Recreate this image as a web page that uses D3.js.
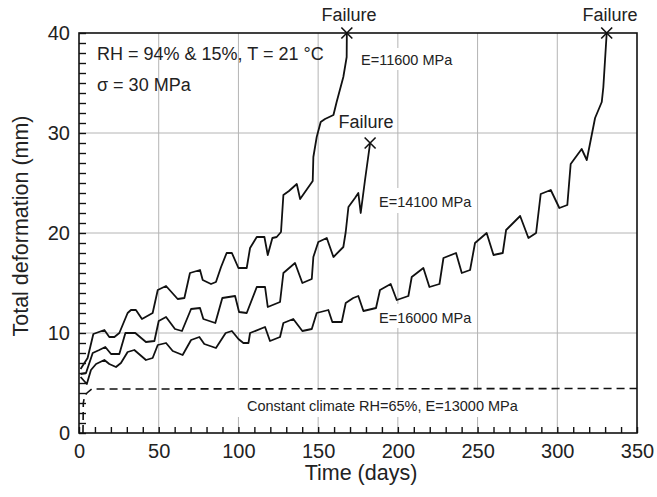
<!DOCTYPE html>
<html>
<head>
<meta charset="utf-8">
<script src="https://cdn.jsdelivr.net/npm/d3@7"></script>
<style>
	body { margin: 0; background: #fff; }
	svg { font-family: "Liberation Sans", Arial, sans-serif; }
</style>
</head>
<body>
<div class="chart"></div>
<script>
// [day, total deformation (mm)]
var e11600 = [[1,6.4],[5.4,7.5],[9,9.9],[15.9,10.3],[19,9.6],[22.2,9.6],[25.3,10.0],[30.5,12.0],[32.6,12.3],[35.7,12.3],
	[39.5,11.4],[46.2,12.0],[49.4,14.3],[54.6,14.7],[61.9,13.4],[66.1,13.5],[69.6,16.0],[75.9,16.3],[77.6,15.3],[82.8,14.9],
	[85.9,15.1],[89.1,16.6],[92.6,18.0],[95.9,18.0],[100,16.5],[105.2,16.5],[107.3,18.5],[111.5,19.6],[116.3,19.6],[118.4,17.8],
	[121.3,19.5],[124,19.6],[126.7,20.1],[128.2,23.8],[131.7,24.2],[136.6,24.9],[138.7,23.4],[142.2,24.2],[146.6,25.2],[147,27.6],
	[149.1,29.6],[151.6,31.1],[154.3,31.4],[159.6,31.8],[161.6,33.1],[165.8,35.6],[167.9,37.6],[168,40]];

var e14100 = [[1,5.9],[4.4,6.0],[8.6,8.0],[12.7,8.3],[16.5,8.6],[20.1,7.9],[25.3,7.9],[29.1,10.0],[35.3,10.0],[42,9.1],
	[47.3,9.2],[50,11.2],[54.6,11.6],[60.2,10.4],[64.6,10.2],[70.3,12.4],[75.9,12.5],[78,11.4],[85.5,11.0],[89.9,13.5],
	[97.9,13.7],[100.4,12.1],[105.2,12.0],[111.5,14.6],[116.7,14.6],[118.4,12.6],[126.1,13.1],[128.2,16.0],[135.5,17.0],[140.1,15.0],
	[146,15.4],[147,17.6],[150.1,19.1],[155.4,19.5],[159.6,17.6],[165.8,18.6],[167.3,20.1],[169,22.6],[173.1,23.5],[175.2,24.0],
	[176.7,22.0],[179.4,25.3],[182.6,29]];

var e16000 = [[1,5.6],[4.9,4.9],[7.5,6.3],[10.7,6.9],[15.9,7.3],[19,6.9],[23.2,6.6],[26.3,7.0],[30.5,8.1],[34.7,8.3],
	[42,7.3],[46.2,7.5],[49.4,8.8],[54.6,9.0],[58.8,8.2],[65,7.8],[70.3,9.3],[75.5,9.6],[78.6,8.9],[85.9,8.5],
	[92,10.0],[95.9,10.2],[100,9.4],[103.1,9.0],[106.3,9.0],[107.3,10.0],[116.7,10.6],[119.8,9.2],[126.1,9.6],[128.2,11.0],
	[134.4,11.4],[140.1,10.2],[146,10.4],[149.1,12.0],[156.4,12.3],[158.9,11.1],[164.8,11.1],[167.3,13.0],[172,13.5],[175.2,13.7],
	[178.4,12.2],[186.3,12.5],[188.8,14.3],[195.5,14.9],[199.3,13.3],[206.6,13.7],[208.7,15.6],[216,16.5],[219.8,14.6],[226.1,14.9],
	[228.6,17.5],[236.5,18.0],[240.1,16.0],[245.3,16.3],[248.4,19.0],[255.7,20.0],[260,17.8],[265.8,18.0],[267.9,20.3],[276.7,21.7],
	[281.9,19.5],[286.7,20.0],[289.6,23.9],[295.9,24.3],[301.3,22.5],[306.3,22.8],[308.4,26.9],[315.3,28.4],[318.5,27.3],[323.7,31.5],
	[327.9,33.1],[328.9,34.6],[331,40]];

// constant climate reference (dashed)
var constantClimate = [[2.5,0],[2.7,3.0],[3.5,3.7],[5,4.0],[8,4.4],[350,4.45]];

var failures = [[168,40],[182.6,29],[331,40]];

var xTicks = [0, 50, 100, 150, 200, 250, 300, 350];
var yTicks = [0, 10, 20, 30, 40];

var width = 657;
var height = 497;
var margin = {top: 33, right: 20, bottom: 64, left: 79};

var svg = d3.select(".chart")
	.append("svg")
	.attr("width", width)
	.attr("height", height);

var x = d3.scaleLinear().domain([0, 350]).range([margin.left, width - margin.right]);
var y = d3.scaleLinear().domain([0, 40]).range([height - margin.bottom, margin.top]);

var x0 = x(0), x1 = x(350), y0 = y(0), y1 = y(40);

// grid
svg.append("g")
	.selectAll("line")
	.data(xTicks.slice(1, -1))
	.enter()
	.append("line")
	.attr("x1", function(d) { return x(d); })
	.attr("x2", function(d) { return x(d); })
	.attr("y1", y0)
	.attr("y2", y1)
	.attr("stroke", "#b4b4b4")
	.attr("stroke-width", 1);

svg.append("g")
	.selectAll("line")
	.data(yTicks.slice(1, -1))
	.enter()
	.append("line")
	.attr("y1", function(d) { return y(d); })
	.attr("y2", function(d) { return y(d); })
	.attr("x1", x0)
	.attr("x2", x1)
	.attr("stroke", "#b4b4b4")
	.attr("stroke-width", 1);

// labels on white boxes
var labels = [
	{text: "E=11600 MPa", x: 361, y: 65, padX: 4, padTop: 4, padBot: 2},
	{text: "E=14100 MPa", x: 379, y: 207, padX: 4, padTop: 6, padBot: 3},
	{text: "E=16000 MPa", x: 379, y: 323, padX: 4, padTop: 6, padBot: 2},
	{text: "Constant climate RH=65%, E=13000 MPa", x: 247, y: 411, padX: 10, padTop: 8, padBot: 3}
];

var labelG = svg.append("g");
labels.forEach(function(l) {
	var bg = labelG.append("rect").attr("fill", "#fff");
	var t = labelG.append("text")
		.attr("x", l.x)
		.attr("y", l.y)
		.attr("font-size", "14.5px")
		.attr("fill", "#222")
		.text(l.text);
	var b = t.node().getBBox();
	bg.attr("x", b.x - l.padX)
		.attr("y", b.y - l.padTop)
		.attr("width", b.width + l.padX * 2)
		.attr("height", b.height + l.padTop + l.padBot);
});

// curves
var line = d3.line()
	.x(function(d) { return x(d[0]); })
	.y(function(d) { return y(d[1]); });

[e11600, e14100, e16000].forEach(function(s) {
	svg.append("path")
		.datum(s)
		.attr("d", line)
		.attr("fill", "none")
		.attr("stroke", "#111")
		.attr("stroke-width", 1.8)
		.attr("stroke-linejoin", "round");
});

svg.append("path")
	.datum(constantClimate)
	.attr("d", line)
	.attr("fill", "none")
	.attr("stroke", "#111")
	.attr("stroke-width", 1.6)
	.attr("stroke-dasharray", "8,5");

// failure marks
svg.selectAll(".fail")
	.data(failures)
	.enter()
	.append("path")
	.attr("class", "fail")
	.attr("transform", function(d) { return "translate(" + x(d[0]) + "," + y(d[1]) + ")"; })
	.attr("d", d3.symbol().type(d3.symbolX).size(80))
	.attr("fill", "none")
	.attr("stroke", "#111")
	.attr("stroke-width", 1.6);

var failText = [
	{text: "Failure", x: 349, y: 21},
	{text: "Failure", x: 366, y: 128},
	{text: "Failure", x: 610, y: 21}
];
svg.selectAll(".failText")
	.data(failText)
	.enter()
	.append("text")
	.attr("class", "failText")
	.attr("x", function(d) { return d.x; })
	.attr("y", function(d) { return d.y; })
	.attr("text-anchor", "middle")
	.attr("font-size", "18px")
	.attr("fill", "#222")
	.text(function(d) { return d.text; });

// frame
svg.append("rect")
	.attr("x", x0)
	.attr("y", y1)
	.attr("width", x1 - x0)
	.attr("height", y0 - y1)
	.attr("fill", "none")
	.attr("stroke", "#111")
	.attr("stroke-width", 1.6);

// minor ticks (inward)
svg.append("g")
	.attr("transform", "translate(0," + y0 + ")")
	.call(d3.axisBottom(x).tickValues(d3.range(0, 351, 10)).tickSize(-6).tickFormat(""))
	.call(function(g) { g.select(".domain").remove(); })
	.selectAll("line").attr("stroke", "#111").attr("stroke-width", 1.4);

svg.append("g")
	.attr("transform", "translate(" + x0 + ",0)")
	.call(d3.axisLeft(y).tickValues(d3.range(0, 41, 1)).tickSize(-7).tickFormat(""))
	.call(function(g) { g.select(".domain").remove(); })
	.selectAll("line").attr("stroke", "#111").attr("stroke-width", 1.4);

// tick labels
var xAxis = svg.append("g")
	.attr("transform", "translate(0," + y0 + ")")
	.call(d3.axisBottom(x).tickValues(xTicks).tickSize(0).tickPadding(11));
xAxis.select(".domain").remove();
xAxis.selectAll("text").attr("font-size", "20px").attr("fill", "#222").attr("font-family", null);

var yAxis = svg.append("g")
	.attr("transform", "translate(" + x0 + ",0)")
	.call(d3.axisLeft(y).tickValues(yTicks).tickSize(0).tickPadding(9));
yAxis.select(".domain").remove();
yAxis.selectAll("text").attr("font-size", "20px").attr("fill", "#222").attr("font-family", null);

// axis titles
svg.append("text")
	.attr("x", 361)
	.attr("y", 480)
	.attr("text-anchor", "middle")
	.attr("font-size", "21.5px")
	.attr("fill", "#222")
	.text("Time (days)");

svg.append("text")
	.attr("transform", "translate(28," + 226 + ") rotate(-90)")
	.attr("text-anchor", "middle")
	.attr("font-size", "21.5px")
	.attr("fill", "#222")
	.text("Total deformation (mm)");

// conditions
svg.append("text")
	.attr("x", 97)
	.attr("y", 60)
	.attr("font-size", "18px")
	.attr("fill", "#222")
	.text("RH = 94% & 15%, T = 21 °C");

svg.append("text")
	.attr("x", 97)
	.attr("y", 91)
	.attr("font-size", "18px")
	.attr("fill", "#222")
	.text("σ = 30 MPa");
</script>
</body>
</html>
